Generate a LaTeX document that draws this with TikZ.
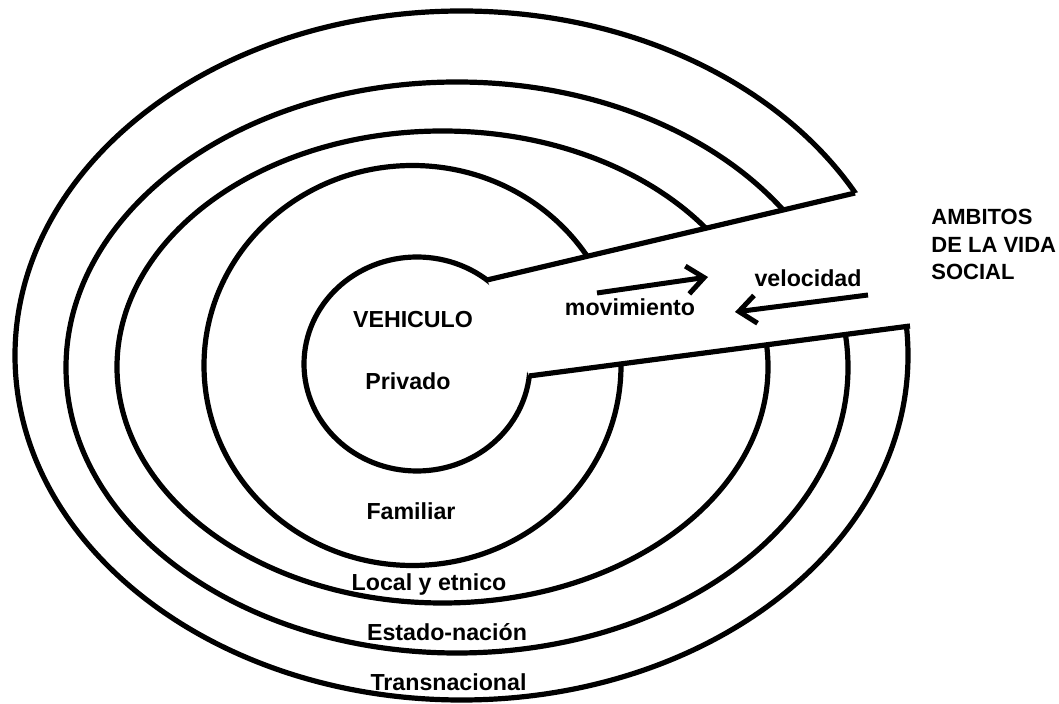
\documentclass[tikz,border=0pt]{standalone}
\usepackage{fontspec}
\setmainfont{Liberation Sans}
\usetikzlibrary{arrows.meta}
\begin{document}
\begin{tikzpicture}[x=0.5pt,y=-0.5pt,
  ring/.style={line width=2.6pt},
  wall/.style={line width=2.6pt},
  flow/.style={line width=2.5pt,-{Straight Barb[length=8.5pt,width=14pt]}},
  lbl/.style={font=\fontsize{11.6}{13.5}\selectfont\bfseries, inner sep=0pt, anchor=base},
  side/.style={lbl, font=\fontsize{11}{13.5}\selectfont\bfseries, anchor=base west}]
\useasboundingbox (0,0) rectangle (1059,704);
% ends of the two walls of the opening
\coordinate (pu) at (487,280);
\coordinate (tu) at (855,193);
\coordinate (pl) at (529,376);
\coordinate (tl) at (910,326);
% the five spheres, cut open along the wedge
\begin{scope}
  \clip (0,0) -- (1059,0) -- (1059,144.8) -- (pu) -- (pl) -- (1059,306.4)
        -- (1059,704) -- (0,704) -- cycle;
  \draw[ring] (417,364)   ellipse [x radius=113,   y radius=107];
  \draw[ring] (412.5,365.5) ellipse [x radius=208.5, y radius=200];
  \draw[ring] (442.5,367) ellipse [x radius=325.5, y radius=236];
  \draw[ring] (457,367.5) ellipse [x radius=391,   y radius=285.5];
  \draw[ring] (461.5,355.5) ellipse [x radius=446.5, y radius=344.5];
\end{scope}
\draw[wall] (pu) -- (tu);
\draw[wall] (pl) -- (tl);
% arrows
\coordinate (m1) at (597,293);
\coordinate (m2) at (708,277);
\coordinate (v1) at (868,295);
\coordinate (v2) at (735,312);
\draw[flow] (m1) -- (m2);
\draw[flow] (v1) -- (v2);
% labels
\node[lbl] (veh) at (413,328) {VEHICULO};
\node[lbl] (priv) at (408,390) {Privado};
\node[lbl] (fam) at (411,520) {Familiar};
\node[lbl] (loc) at (429,590) {Local y etnico};
\node[lbl] (est) at (447,640) {Estado-nación};
\node[lbl] (trans) at (448.5,690) {Transnacional};
\node[lbl] (mov) at (630,316) {movimiento};
\node[lbl] (vel) at (808,287) {velocidad};
\node[side] (amb1) at (931,225) {AMBITOS};
\node[side] (amb2) at (931,253) {DE LA VIDA};
\node[side] (amb3) at (931,280) {SOCIAL};
\end{tikzpicture}
\end{document}
